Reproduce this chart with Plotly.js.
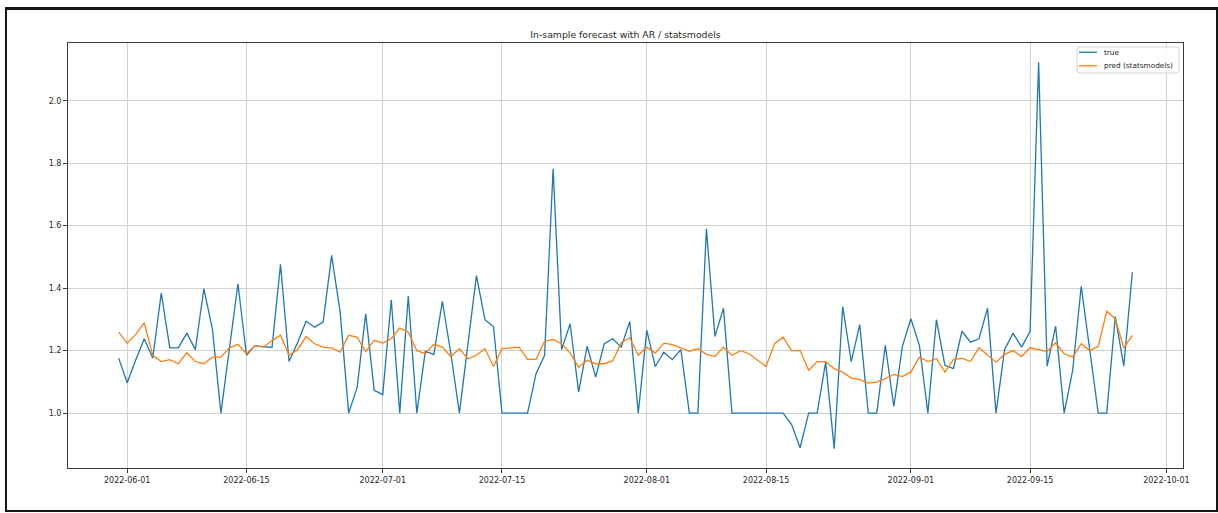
<!DOCTYPE html>
<html>
<head>
<meta charset="utf-8">
<script src="https://cdn.plot.ly/plotly-3.0.1.min.js"></script>
<style>
  html, body { margin: 0; padding: 0; background: #ffffff; }
  #wrap { position: relative; width: 1218px; height: 513px; overflow: hidden; }
  #chart { position: absolute; left: 0; top: 0; width: 1218px; height: 513px; }
  #frame {
    position: absolute; left: 5px; top: 7px; width: 1213px; height: 505px;
    box-sizing: border-box; border: 2px solid #151515; border-top-width: 3px;
    pointer-events: none;
  }
</style>
</head>
<body>
<div id="wrap">
  <div id="chart"></div>
  <div id="frame"></div>
</div>
<script>
// Daily series, first observation on this date
const START_DATE = '2022-05-31';

// Observed values
const trueValues = [
  1.176, 1.097, 1.170, 1.238, 1.176, 1.384, 1.209, 1.209, 1.256, 1.203,
  1.398, 1.270, 1.000, 1.210, 1.414, 1.185, 1.216, 1.213, 1.210, 1.476,
  1.165, 1.225, 1.294, 1.275, 1.291, 1.505, 1.323, 1.000, 1.083, 1.318,
  1.073, 1.059, 1.363, 1.000, 1.375, 1.000, 1.198, 1.187, 1.358, 1.190,
  1.000, 1.220, 1.440, 1.299, 1.277, 1.000, 1.000, 1.000, 1.000, 1.126,
  1.185, 1.782, 1.203, 1.286, 1.067, 1.214, 1.115, 1.222, 1.238, 1.211,
  1.293, 1.000, 1.265, 1.149, 1.195, 1.171, 1.203, 1.000, 1.000, 1.590,
  1.245, 1.336, 1.000, 1.000, 1.000, 1.000, 1.000, 1.000, 1.000, 0.963,
  0.889, 1.000, 1.000, 1.163, 0.886, 1.341, 1.165, 1.283, 1.000, 1.000,
  1.217, 1.021, 1.213, 1.302, 1.217, 1.000, 1.299, 1.153, 1.142, 1.262,
  1.227, 1.238, 1.336, 1.000, 1.203, 1.256, 1.211, 1.262, 2.123, 1.150,
  1.278, 1.000, 1.137, 1.406, 1.210, 1.000, 1.000, 1.309, 1.150, 1.451
];

// In-sample AR predictions
const predValues = [
  1.259, 1.224, 1.252, 1.289, 1.185, 1.165, 1.171, 1.158, 1.193, 1.165,
  1.158, 1.179, 1.179, 1.209, 1.220, 1.190, 1.216, 1.211, 1.232, 1.249,
  1.185, 1.203, 1.245, 1.222, 1.211, 1.209, 1.195, 1.249, 1.243, 1.197,
  1.233, 1.224, 1.238, 1.272, 1.259, 1.200, 1.190, 1.220, 1.211, 1.181,
  1.206, 1.174, 1.185, 1.206, 1.149, 1.206, 1.209, 1.211, 1.172, 1.172,
  1.230, 1.236, 1.222, 1.192, 1.147, 1.169, 1.158, 1.158, 1.167, 1.225,
  1.241, 1.185, 1.211, 1.192, 1.224, 1.219, 1.209, 1.198, 1.206, 1.188,
  1.181, 1.211, 1.185, 1.200, 1.190, 1.169, 1.149, 1.222, 1.243, 1.200,
  1.200, 1.137, 1.165, 1.165, 1.142, 1.131, 1.112, 1.107, 1.096, 1.099,
  1.110, 1.124, 1.117, 1.131, 1.179, 1.165, 1.174, 1.131, 1.171, 1.176,
  1.165, 1.209, 1.185, 1.163, 1.188, 1.200, 1.181, 1.209, 1.203, 1.197,
  1.225, 1.190, 1.179, 1.222, 1.200, 1.214, 1.326, 1.302, 1.209, 1.249
];

const seriesNames = ['true', 'pred (statsmodels)'];
const seriesColors = ['#1f77b4', '#ff7f0e'];
const xTickDates = ['2022-06-01', '2022-06-15', '2022-07-01', '2022-07-15', '2022-08-01',
                    '2022-08-15', '2022-09-01', '2022-09-15', '2022-10-01'];
const yTickValues = [1.0, 1.2, 1.4, 1.6, 1.8, 2.0];

// Build the daily date index
function dailyIndex(start, n) {
  const out = [];
  const d0 = new Date(start + 'T00:00:00Z');
  for (let k = 0; k < n; k++) {
    const d = new Date(d0.getTime() + k * 86400000);
    out.push(d.toISOString().slice(0, 10));
  }
  return out;
}
const dates = dailyIndex(START_DATE, trueValues.length);

// 5% padding on both axes
function padRangeDates(first, last) {
  const a = new Date(first + 'T00:00:00Z').getTime();
  const b = new Date(last + 'T00:00:00Z').getTime();
  const m = (b - a) * 0.05;
  const f = t => new Date(t).toISOString().replace('T', ' ').slice(0, 19);
  return [f(a - m), f(b + m)];
}
function padRange(vals) {
  const lo = Math.min.apply(null, vals), hi = Math.max.apply(null, vals);
  const m = (hi - lo) * 0.05;
  return [lo - m, hi + m];
}

const W = 1218, H = 513;
const margin = { l: 68, r: 35, t: 43, b: 45 };
const plotW = W - margin.l - margin.r;
const plotH = H - margin.t - margin.b;
// pixel -> paper coordinates of the plotting area
const px = x => (x - margin.l) / plotW;
const py = y => (H - margin.b - y) / plotH;

const font = 'DejaVu Sans, Liberation Sans, sans-serif';
const textColor = '#262626';
const axisColor = '#3a3a3a';
const gridColor = '#d2d2d2';

const traces = seriesNames.map((name, k) => ({
  x: dates, y: k === 0 ? trueValues : predValues, name: name,
  type: 'scatter', mode: 'lines',
  line: { color: seriesColors[k], width: 1.3 }
}));

// Compact legend in the upper-right corner: rounded frame, line keys and labels
const legBox = { x0: px(1077), x1: px(1179), y0: py(73), y1: py(47) };
const rx = 3 / plotW, ry = 3 / plotH;
const legendFrame = {
  type: 'path', xref: 'paper', yref: 'paper', layer: 'above',
  path: `M ${legBox.x0 + rx},${legBox.y0} L ${legBox.x1 - rx},${legBox.y0} ` +
        `Q ${legBox.x1},${legBox.y0} ${legBox.x1},${legBox.y0 + ry} ` +
        `L ${legBox.x1},${legBox.y1 - ry} Q ${legBox.x1},${legBox.y1} ${legBox.x1 - rx},${legBox.y1} ` +
        `L ${legBox.x0 + rx},${legBox.y1} Q ${legBox.x0},${legBox.y1} ${legBox.x0},${legBox.y1 - ry} ` +
        `L ${legBox.x0},${legBox.y0 + ry} Q ${legBox.x0},${legBox.y0} ${legBox.x0 + rx},${legBox.y0} Z`,
  fillcolor: 'rgba(255,255,255,0.85)', line: { color: '#d4d4d4', width: 1 }
};
const legendRows = [52.3, 65.7];
const legendKeys = seriesNames.map((name, k) => ({
  type: 'line', xref: 'paper', yref: 'paper', layer: 'above',
  x0: px(1079), x1: px(1097), y0: py(legendRows[k]), y1: py(legendRows[k]),
  line: { color: seriesColors[k], width: 1.3 }
}));
const legendLabels = seriesNames.map((name, k) => ({
  xref: 'paper', yref: 'paper', x: px(1101.5), y: py(legendRows[k]),
  xanchor: 'left', yanchor: 'middle', showarrow: false, text: name,
  font: { family: font, size: 7.3, color: textColor }
}));

const layout = {
  width: W, height: H,
  margin: margin,
  paper_bgcolor: '#ffffff', plot_bgcolor: '#ffffff',
  font: { family: font, size: 8, color: textColor },
  title: {
    text: 'In-sample forecast with AR / statsmodels',
    font: { family: font, size: 9.3, color: textColor },
    xref: 'paper', x: 0.5, xanchor: 'center',
    yref: 'container', y: 1 - 35 / H, yanchor: 'middle'
  },
  showlegend: false,
  shapes: [legendFrame].concat(legendKeys),
  annotations: legendLabels,
  xaxis: {
    type: 'date',
    range: padRangeDates(dates[0], dates[dates.length - 1]),
    tickvals: xTickDates, ticktext: xTickDates,
    showgrid: true, gridcolor: gridColor, gridwidth: 1,
    showline: true, linecolor: axisColor, linewidth: 1, mirror: true,
    ticks: 'outside', ticklen: 4, tickwidth: 1, tickcolor: axisColor,
    tickfont: { family: font, size: 8, color: textColor },
    zeroline: false
  },
  yaxis: {
    range: padRange(trueValues.concat(predValues)),
    tickvals: yTickValues, tickformat: '.1f',
    showgrid: true, gridcolor: gridColor, gridwidth: 1,
    showline: true, linecolor: axisColor, linewidth: 1, mirror: true,
    ticks: 'outside', ticklen: 4, tickwidth: 1, tickcolor: axisColor,
    tickfont: { family: font, size: 8, color: textColor },
    zeroline: false
  }
};

Plotly.newPlot('chart', traces, layout, { displayModeBar: false, staticPlot: true });
</script>
</body>
</html>
